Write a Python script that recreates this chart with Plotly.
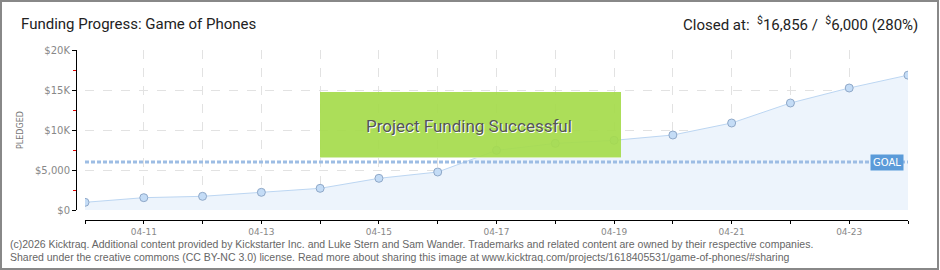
import plotly.graph_objects as go

dates = ["2026-04-10", "2026-04-11", "2026-04-12", "2026-04-13", "2026-04-14",
         "2026-04-15", "2026-04-16", "2026-04-17", "2026-04-18", "2026-04-19",
         "2026-04-20", "2026-04-21", "2026-04-22", "2026-04-23", "2026-04-24"]
pledged = [960, 1540, 1710, 2210, 2710, 3960, 4750, 7460, 8330, 8710,
           9375, 10875, 13375, 15250, 16856]
goal = 6000
y_tick_vals = [0, 5000, 10000, 15000, 20000]
y_tick_text = ["$0", "$5,000", "$10K", "$15K", "$20K"]
x_label_dates = dates[1::2]
x_tick_text = [d[5:] for d in x_label_dates]

W, H = 940, 270
ML, MR, MT, MB = 76, 32, 50, 50
PW, PH = W - ML - MR, H - MT - MB


def px_x(x):
    return (x - ML) / PW


def px_y(y):
    return (H - MB - y) / PH


fig = go.Figure()
fig.add_trace(go.Scatter(
    x=dates, y=pledged, mode="lines+markers", fill="tozeroy",
    fillcolor="#edf4fc", line=dict(color="#bcd6f2", width=1),
    marker=dict(size=8, color="#c4dcf6", line=dict(color="#8fa8c8", width=1)),
    hoverinfo="skip", showlegend=False,
))
fig.add_trace(go.Scatter(
    x=[dates[0], dates[-1]], y=[goal, goal], mode="lines",
    line=dict(color="#9dbde4", width=3, dash="4px,2px"),
    hoverinfo="skip", showlegend=False,
))

grid = dict(gridcolor="#e2e2e2", griddash="dash", gridwidth=1)
fig.update_layout(
    width=W, height=H,
    margin=dict(l=ML, r=MR, t=MT, b=MB),
    paper_bgcolor="white", plot_bgcolor="white",
    xaxis=dict(
        type="date", range=[dates[0], dates[-1]],
        domain=[9 / PW, 1], anchor="free", position=0,
        tickvals=x_label_dates, ticktext=x_tick_text,
        showline=True, linecolor="#000", linewidth=1,
        ticks="outside", ticklen=3, tickcolor="#000", tickwidth=1,
        minor=dict(tickvals=dates, ticks="outside", ticklen=3, tickcolor="#000",
                   tickwidth=1, showgrid=True, **grid),
        tickfont=dict(family="DejaVu Sans", size=9, color="#888"),
        zeroline=False, **grid,
    ),
    yaxis=dict(
        range=[0, 20000], domain=[10 / PH, 1], anchor="free", position=0,
        tickvals=y_tick_vals, ticktext=y_tick_text,
        showline=True, linecolor="#000", linewidth=1,
        ticks="outside", ticklen=4, tickcolor="#000", tickwidth=1,
        minor=dict(dtick=2500, tick0=0, ticks="outside", ticklen=3,
                   tickcolor="#e00000", showgrid=False),
        tickfont=dict(family="DejaVu Sans", size=10, color="#888"),
        zeroline=False, **grid,
    ),
    shapes=[
        dict(type="rect", xref="paper", yref="paper",
             x0=px_x(320), x1=px_x(621), y0=px_y(157), y1=px_y(92),
             fillcolor="rgba(166,220,76,0.93)", line=dict(width=0), layer="above"),
        dict(type="line", xref="paper", yref="paper",
             x0=px_x(320), x1=px_x(621), y0=px_y(157.5), y1=px_y(157.5),
             line=dict(color="#d6edb0", width=1), layer="above"),
        dict(type="rect", xref="paper", yref="paper",
             x0=px_x(1), x1=px_x(938), y0=px_y(269), y1=px_y(1),
             fillcolor="rgba(0,0,0,0)", line=dict(color="#888", width=2), layer="above"),
    ],
    annotations=[
        dict(xref="paper", yref="paper", x=px_x(19), y=px_y(24),
             xanchor="left", yanchor="middle", showarrow=False,
             text="Funding Progress: Game of Phones",
             font=dict(family="Roboto", size=15, color="#222")),
        dict(xref="paper", yref="paper", x=px_x(920), y=px_y(24),
             xanchor="right", yanchor="middle", showarrow=False,
             text="Closed at:  <sup>$</sup>16,856 /  <sup>$</sup>6,000 (280%)",
             font=dict(family="Roboto", size=15, color="#222")),
        dict(xref="paper", yref="paper", x=px_x(469), y=px_y(126),
             xanchor="center", yanchor="middle", showarrow=False,
             text="Project Funding Successful",
             font=dict(family="Roboto", size=17, color="#555",
                       shadow="1px 1px 0px #ffffff")),
        dict(xref="paper", yref="paper", x=px_x(20), y=px_y(130),
             xanchor="center", yanchor="middle", showarrow=False, textangle=-90,
             text="PLEDGED",
             font=dict(family="DejaVu Sans", size=8, color="#777")),
        dict(xref="x", yref="y", x=dates[-1], y=goal,
             xanchor="right", yanchor="middle", showarrow=False, xshift=-4,
             text="GOAL", bgcolor="#5b9bd9", borderpad=2,
             font=dict(family="DejaVu Sans", size=10, color="white")),
        dict(xref="paper", yref="paper", x=px_x(8), y=px_y(243.5),
             xanchor="left", yanchor="middle", showarrow=False,
             text="(c)2026 Kicktraq. Additional content provided by Kickstarter Inc. and Luke Stern and Sam Wander. Trademarks and related content are owned by their respective companies.",
             font=dict(family="Liberation Sans", size=10.5, color="#666")),
        dict(xref="paper", yref="paper", x=px_x(8), y=px_y(256.5),
             xanchor="left", yanchor="middle", showarrow=False,
             text="Shared under the creative commons (CC BY-NC 3.0) license. Read more about sharing this image at www.kicktraq.com/projects/1618405531/game-of-phones/#sharing",
             font=dict(family="Liberation Sans", size=10.5, color="#666")),
    ],
)

fig.write_html("out.html")
